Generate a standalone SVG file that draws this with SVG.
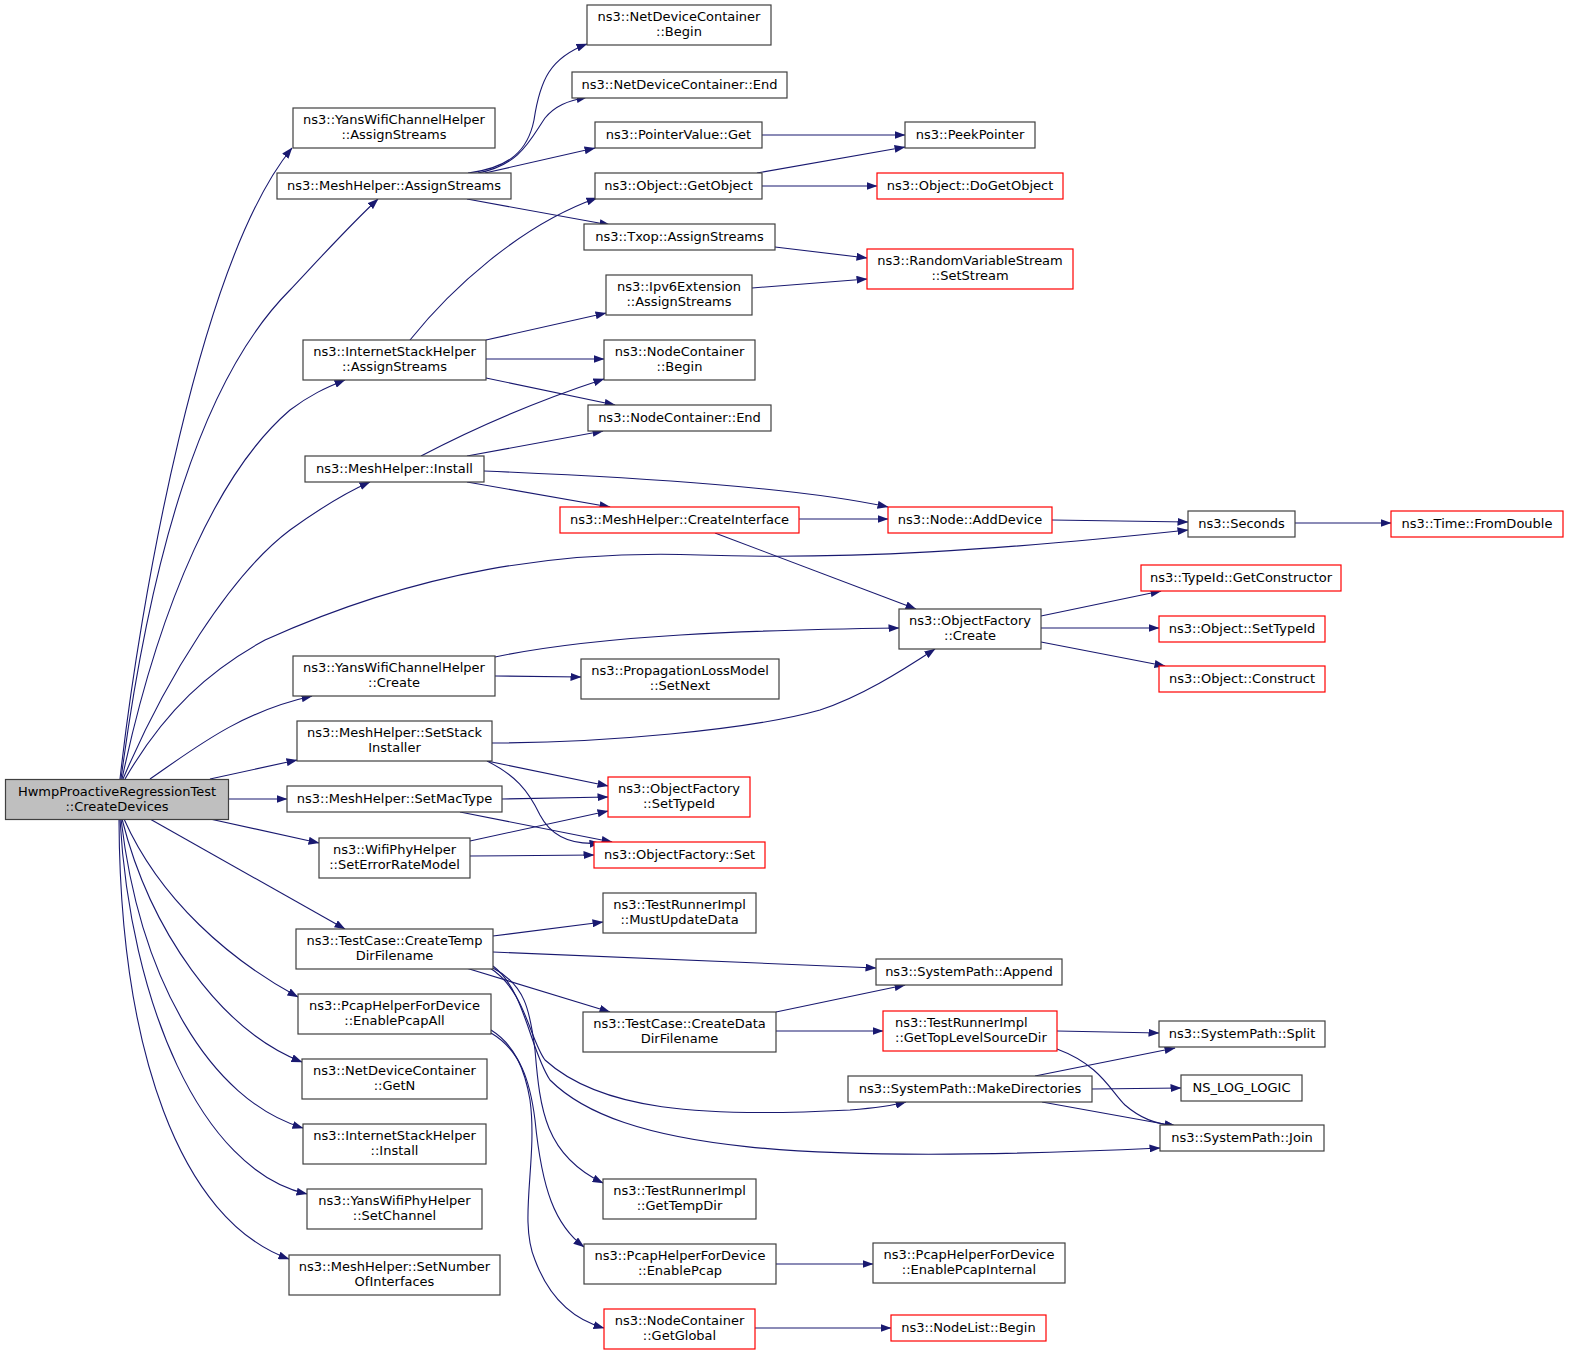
<svg xmlns="http://www.w3.org/2000/svg" width="1571" height="1356" viewBox="0 0 1571 1356">
<style>
.n rect{fill:#ffffff;stroke:#404040;stroke-width:1.2}
.n.red rect{stroke:#ff0000}
.n.root rect{fill:#bfbfbf}
text{font-family:"DejaVu Sans","Liberation Sans",sans-serif;font-size:13px;fill:#000000;text-anchor:middle}
text.l{text-anchor:start}
#edges path{fill:none;stroke:#191970;stroke-width:1.1;marker-end:url(#arr)}
</style>
<defs>
<marker id="arr" markerUnits="userSpaceOnUse" viewBox="0 0 11 8" refX="10.5" refY="4" markerWidth="11" markerHeight="8" orient="auto">
<path d="M0,0 L11,4 L0,8 z" fill="#191970" stroke="none"/>
</marker>
</defs>
<rect width="1571" height="1356" fill="#ffffff"/>
<g id="edges">
<path d="M120,779 C140,600 200,260 292,148"/>
<path d="M121,779 C150,560 200,380 290,290 C320,258 350,225 378,199"/>
<path d="M122,779 C160,600 220,470 290,410 C310,395 325,388 345,380"/>
<path d="M123,779 C165,680 230,575 290,530 C315,512 340,495 370,482"/>
<path d="M125,779 C165,710 210,670 265,640 C420,570 560,550 700,555 C850,560 1000,550 1188,530"/>
<path d="M150,779 C195,748 240,712 312,696"/>
<path d="M210,779 L297,760"/>
<path d="M228,799 L287,799"/>
<path d="M210,819 L319,843"/>
<path d="M150,819 L345,929"/>
<path d="M124,819 C160,900 230,960 298,997"/>
<path d="M122,819 C150,930 220,1030 302,1062"/>
<path d="M121,819 C140,980 210,1100 303,1128"/>
<path d="M120,819 C130,1000 200,1170 307,1194"/>
<path d="M119,819 C120,1050 180,1220 289,1259"/>
<path d="M468,173 C510,168 528,150 534,120 C540,80 550,58 587,44"/>
<path d="M478,173 C520,165 530,140 545,118 C555,106 567,101 587,97"/>
<path d="M485,173 L595,148"/>
<path d="M467,199 L610,225"/>
<path d="M762,135 L905,135"/>
<path d="M757,173 L905,147"/>
<path d="M762,186 L877,186"/>
<path d="M775,247 L867,258"/>
<path d="M752,288 L867,279"/>
<path d="M410,340 C450,290 520,225 597,198"/>
<path d="M486,340 L606,313"/>
<path d="M486,359 L604,359"/>
<path d="M486,378 L615,405"/>
<path d="M421,456 C480,425 540,400 604,379"/>
<path d="M467,456 L603,431"/>
<path d="M484,471 C650,478 800,488 888,507"/>
<path d="M467,482 L610,507"/>
<path d="M799,519 L888,519"/>
<path d="M715,533 L916,609"/>
<path d="M1052,520 L1188,522"/>
<path d="M1295,523 L1391,523"/>
<path d="M1041,616 L1161,591"/>
<path d="M1041,628 L1159,628"/>
<path d="M1041,642 L1165,666"/>
<path d="M495,657 C600,635 750,630 899,628"/>
<path d="M495,676 L581,677"/>
<path d="M492,743 C600,743 750,730 820,710 C860,697 900,672 935,649"/>
<path d="M487,761 L608,786"/>
<path d="M487,761 C515,775 528,790 540,815 C552,838 575,845 600,843"/>
<path d="M502,799 L608,797"/>
<path d="M460,812 L612,842"/>
<path d="M470,841 L608,811"/>
<path d="M470,856 L594,855"/>
<path d="M493,936 L603,922"/>
<path d="M493,952 L876,968"/>
<path d="M466,968 L610,1012"/>
<path d="M490,968 C525,990 530,1040 545,1060 C600,1110 700,1118 850,1110 C875,1108 895,1105 906,1102"/>
<path d="M493,966 C525,990 530,1050 550,1080 C620,1150 800,1165 1160,1148"/>
<path d="M493,968 C525,985 530,1010 535,1050 C540,1110 545,1155 603,1183"/>
<path d="M491,1033 C520,1050 530,1080 535,1120 C542,1190 555,1225 584,1247"/>
<path d="M491,1030 C515,1045 525,1070 530,1100 C538,1160 518,1220 535,1260 C550,1300 575,1320 604,1328"/>
<path d="M776,1012 L905,985"/>
<path d="M776,1031 L883,1031"/>
<path d="M1057,1031 L1159,1033"/>
<path d="M1057,1049 C1100,1065 1110,1090 1125,1105 C1140,1118 1155,1124 1176,1126"/>
<path d="M1035,1076 L1175,1048"/>
<path d="M1092,1089 L1181,1088"/>
<path d="M1042,1102 L1175,1126"/>
<path d="M776,1264 L873,1264"/>
<path d="M755,1328 L891,1328"/>
</g>
<g id="n0" class="n root"><rect x="5.5" y="779.5" width="223" height="40"/><text x="117" y="796">HwmpProactiveRegressionTest</text><text x="117" y="811">::CreateDevices</text></g>
<g id="n1" class="n"><rect x="293" y="108" width="202" height="40"/><text x="394" y="124">ns3::YansWifiChannelHelper</text><text x="394" y="139">::AssignStreams</text></g>
<g id="n2" class="n"><rect x="277" y="173" width="234" height="26"/><text x="394" y="190">ns3::MeshHelper::AssignStreams</text></g>
<g id="n3" class="n"><rect x="587" y="5" width="184" height="40"/><text x="679" y="21">ns3::NetDeviceContainer</text><text x="679" y="36">::Begin</text></g>
<g id="n4" class="n"><rect x="572" y="72" width="215" height="26"/><text x="679.5" y="89">ns3::NetDeviceContainer::End</text></g>
<g id="n5" class="n"><rect x="595" y="122" width="167" height="26"/><text x="678.5" y="139">ns3::PointerValue::Get</text></g>
<g id="n6" class="n"><rect x="595" y="173" width="167" height="26"/><text x="678.5" y="190">ns3::Object::GetObject</text></g>
<g id="n7" class="n"><rect x="584" y="224" width="191" height="26"/><text x="679.5" y="241">ns3::Txop::AssignStreams</text></g>
<g id="n8" class="n"><rect x="905" y="122" width="130" height="26"/><text x="970" y="139">ns3::PeekPointer</text></g>
<g id="n9" class="n red"><rect x="877" y="173" width="186" height="26"/><text x="970" y="190">ns3::Object::DoGetObject</text></g>
<g id="n10" class="n red"><rect x="867" y="249" width="206" height="40"/><text x="970" y="265">ns3::RandomVariableStream</text><text x="970" y="280">::SetStream</text></g>
<g id="n11" class="n"><rect x="606" y="275" width="146" height="40"/><text x="679" y="291">ns3::Ipv6Extension</text><text x="679" y="306">::AssignStreams</text></g>
<g id="n12" class="n"><rect x="303" y="340" width="183" height="40"/><text x="394.5" y="356">ns3::InternetStackHelper</text><text x="394.5" y="371">::AssignStreams</text></g>
<g id="n13" class="n"><rect x="604" y="340" width="151" height="40"/><text x="679.5" y="356">ns3::NodeContainer</text><text x="679.5" y="371">::Begin</text></g>
<g id="n14" class="n"><rect x="588" y="405" width="183" height="26"/><text x="679.5" y="422">ns3::NodeContainer::End</text></g>
<g id="n15" class="n"><rect x="305" y="456" width="179" height="26"/><text x="394.5" y="473">ns3::MeshHelper::Install</text></g>
<g id="n16" class="n red"><rect x="560" y="507" width="239" height="26"/><text x="679.5" y="524">ns3::MeshHelper::CreateInterface</text></g>
<g id="n17" class="n red"><rect x="888" y="507" width="164" height="26"/><text x="970" y="524">ns3::Node::AddDevice</text></g>
<g id="n18" class="n"><rect x="1188" y="511" width="107" height="26"/><text x="1241.5" y="528">ns3::Seconds</text></g>
<g id="n19" class="n red"><rect x="1391" y="511" width="172" height="26"/><text x="1477" y="528">ns3::Time::FromDouble</text></g>
<g id="n20" class="n red"><rect x="1141" y="565" width="200" height="26"/><text x="1241" y="582">ns3::TypeId::GetConstructor</text></g>
<g id="n21" class="n"><rect x="899" y="609" width="142" height="40"/><text x="970" y="625">ns3::ObjectFactory</text><text x="970" y="640">::Create</text></g>
<g id="n22" class="n red"><rect x="1159" y="616" width="166" height="26"/><text x="1242" y="633">ns3::Object::SetTypeId</text></g>
<g id="n23" class="n red"><rect x="1159" y="666" width="166" height="26"/><text x="1242" y="683">ns3::Object::Construct</text></g>
<g id="n24" class="n"><rect x="293" y="656" width="202" height="40"/><text x="394" y="672">ns3::YansWifiChannelHelper</text><text x="394" y="687">::Create</text></g>
<g id="n25" class="n"><rect x="581" y="659" width="198" height="40"/><text x="680" y="675">ns3::PropagationLossModel</text><text x="680" y="690">::SetNext</text></g>
<g id="n26" class="n"><rect x="297" y="721" width="195" height="40"/><text x="394.5" y="737">ns3::MeshHelper::SetStack</text><text x="394.5" y="752">Installer</text></g>
<g id="n27" class="n"><rect x="287" y="786" width="215" height="26"/><text x="394.5" y="803">ns3::MeshHelper::SetMacType</text></g>
<g id="n28" class="n red"><rect x="608" y="777" width="142" height="40"/><text x="679" y="793">ns3::ObjectFactory</text><text x="679" y="808">::SetTypeId</text></g>
<g id="n29" class="n"><rect x="319" y="838" width="151" height="40"/><text x="394.5" y="854">ns3::WifiPhyHelper</text><text x="394.5" y="869">::SetErrorRateModel</text></g>
<g id="n30" class="n red"><rect x="594" y="842" width="171" height="26"/><text x="679.5" y="859">ns3::ObjectFactory::Set</text></g>
<g id="n31" class="n"><rect x="603" y="893" width="153" height="40"/><text x="679.5" y="909">ns3::TestRunnerImpl</text><text x="679.5" y="924">::MustUpdateData</text></g>
<g id="n32" class="n"><rect x="296" y="929" width="197" height="40"/><text x="394.5" y="945">ns3::TestCase::CreateTemp</text><text x="394.5" y="960">DirFilename</text></g>
<g id="n33" class="n"><rect x="876" y="959" width="186" height="26"/><text x="969" y="976">ns3::SystemPath::Append</text></g>
<g id="n34" class="n"><rect x="298" y="994" width="193" height="40"/><text x="394.5" y="1010">ns3::PcapHelperForDevice</text><text x="394.5" y="1025">::EnablePcapAll</text></g>
<g id="n35" class="n"><rect x="583" y="1012" width="193" height="40"/><text x="679.5" y="1028">ns3::TestCase::CreateData</text><text x="679.5" y="1043">DirFilename</text></g>
<g id="n36" class="n red"><rect x="883" y="1011" width="174" height="40"/><text class="l" x="895" y="1027">ns3::TestRunnerImpl</text><text class="l" x="895" y="1042">::GetTopLevelSourceDir</text></g>
<g id="n37" class="n"><rect x="1159" y="1021" width="166" height="26"/><text x="1242" y="1038">ns3::SystemPath::Split</text></g>
<g id="n38" class="n"><rect x="848" y="1076" width="244" height="26"/><text x="970" y="1093">ns3::SystemPath::MakeDirectories</text></g>
<g id="n39" class="n"><rect x="1181" y="1075" width="121" height="26"/><text x="1241.5" y="1092">NS_LOG_LOGIC</text></g>
<g id="n40" class="n"><rect x="1160" y="1125" width="164" height="26"/><text x="1242" y="1142">ns3::SystemPath::Join</text></g>
<g id="n41" class="n"><rect x="302" y="1059" width="185" height="40"/><text x="394.5" y="1075">ns3::NetDeviceContainer</text><text x="394.5" y="1090">::GetN</text></g>
<g id="n42" class="n"><rect x="303" y="1124" width="183" height="40"/><text x="394.5" y="1140">ns3::InternetStackHelper</text><text x="394.5" y="1155">::Install</text></g>
<g id="n43" class="n"><rect x="603" y="1179" width="153" height="40"/><text x="679.5" y="1195">ns3::TestRunnerImpl</text><text x="679.5" y="1210">::GetTempDir</text></g>
<g id="n44" class="n"><rect x="307" y="1189" width="175" height="40"/><text x="394.5" y="1205">ns3::YansWifiPhyHelper</text><text x="394.5" y="1220">::SetChannel</text></g>
<g id="n45" class="n"><rect x="584" y="1244" width="192" height="40"/><text x="680" y="1260">ns3::PcapHelperForDevice</text><text x="680" y="1275">::EnablePcap</text></g>
<g id="n46" class="n"><rect x="873" y="1243" width="192" height="40"/><text x="969" y="1259">ns3::PcapHelperForDevice</text><text x="969" y="1274">::EnablePcapInternal</text></g>
<g id="n47" class="n"><rect x="289" y="1255" width="211" height="40"/><text x="394.5" y="1271">ns3::MeshHelper::SetNumber</text><text x="394.5" y="1286">OfInterfaces</text></g>
<g id="n48" class="n red"><rect x="604" y="1309" width="151" height="40"/><text x="679.5" y="1325">ns3::NodeContainer</text><text x="679.5" y="1340">::GetGlobal</text></g>
<g id="n49" class="n red"><rect x="891" y="1315" width="155" height="26"/><text x="968.5" y="1332">ns3::NodeList::Begin</text></g>
</svg>
